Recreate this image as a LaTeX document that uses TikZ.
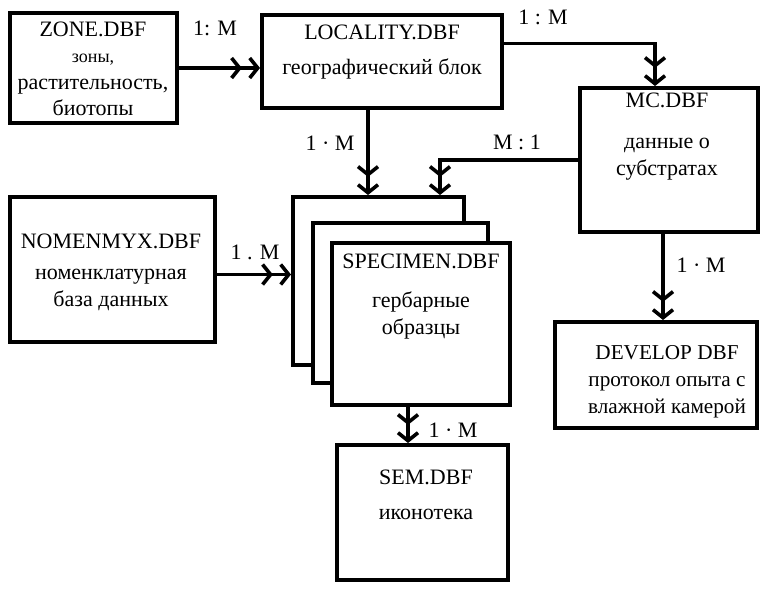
\documentclass[tikz,border=0pt]{standalone}
\usepackage{fontspec}
\setmainfont{Liberation Serif}
\usetikzlibrary{arrows.meta,fit}

\tikzset{
  tbl/.style={draw, line width=2pt, inner sep=0pt},
  sheet/.style={tbl, fill=white},
  rel/.style={line width=1.6pt,
    -{Straight Barb[length=4pt,width=10pt,line width=1.8pt,sep=3pt]Straight Barb[length=4pt,width=10pt,line width=1.8pt]}},
  txt/.style={align=center, inner sep=0pt, font=\fontsize{11}{13.5}\selectfont},
}

\begin{document}
\begin{tikzpicture}[x=0.5pt, y=-0.5pt]
      \useasboundingbox (0,0) rectangle (763,590);
      \node[tbl, fit={(10,13) (177,123)}] (zone) {};
      \node[tbl, fit={(262,15) (502,108)}] (loc) {};
      \node[tbl, fit={(580,88) (758,232)}] (mc) {};
      \node[tbl, fit={(10,197) (215,342)}] (nomen) {};
      \node[sheet, fit={(293,197) (464,365)}] (back) {};
      \node[sheet, fit={(313,223) (488,383)}] (mid) {};
      \node[sheet, fit={(332,243) (510,405)}] (front) {};
      \node[tbl, fit={(337,445) (508,580)}] (sem) {};
      \node[tbl, fit={(555,322) (757,428)}] (dev) {};
      \node[txt, font=\fontsize{11}{12.8}\selectfont] (zonetxt) at (93,69) {ZONE.DBF\\ {\small зоны,}\\[1pt] растительность,\\ биотопы};
      \node[txt] (loctxt) at (382,52) {LOCALITY.DBF\\[4pt] географический блок};
      \node[txt] (mctxt) at (667,137) {MC.DBF\\[7pt] данные о\\ субстратах};
      \node[txt] (nomentxt) at (111,272) {NOMENMYX.DBF\\[2pt] номенклатурная\\ база данных};
      \node[txt] (fronttxt) at (421,297) {SPECIMEN.DBF\\[6pt] гербарные\\ образцы};
      \node[txt] (semtxt) at (426,495) {SEM.DBF\\[4pt] иконотека};
      \node[txt, font=\fontsize{10.6}{13.5}\selectfont] (devtxt) at (667,382) {DEVELOP DBF\\ протокол опыта с\\ влажной камерой};
      \draw[rel] (zone.east) -- (zone.east -| loc.west);
      \draw[rel] ([yshift=9pt]loc.east) -| ([xshift=-7pt]mc.north);
      \draw[rel] ([xshift=-7pt]loc.south) -- ([xshift=-7pt]loc.south |- back.north);
      \draw[rel] (mc.west) -| ([xshift=30.75pt]back.north);
      \draw[rel] ([yshift=-2.5pt]nomen.east) -- ([yshift=-2.5pt]nomen.east -| back.west);
      \draw[rel] ([xshift=-6.5pt]front.south) -- ([xshift=-6.5pt]front.south |- sem.north);
      \draw[rel] ([xshift=-3pt]mc.south) -- ([xshift=-3pt]mc.south |- dev.north);
      \node[txt] (zoneloc) at (215,28) {1: M};
      \node[txt] (locmc) at (543,17) {1 : M};
      \node[txt] (locspec) at (330,143) {1 · M};
      \node[txt] (mcspec) at (517,142) {M : 1};
      \node[txt] (nomenspec) at (255,252) {1 . M};
      \node[txt] (specsem) at (453,430) {1 · M};
      \node[txt] (mcdev) at (701,265) {1 · M};
\end{tikzpicture}
\end{document}
